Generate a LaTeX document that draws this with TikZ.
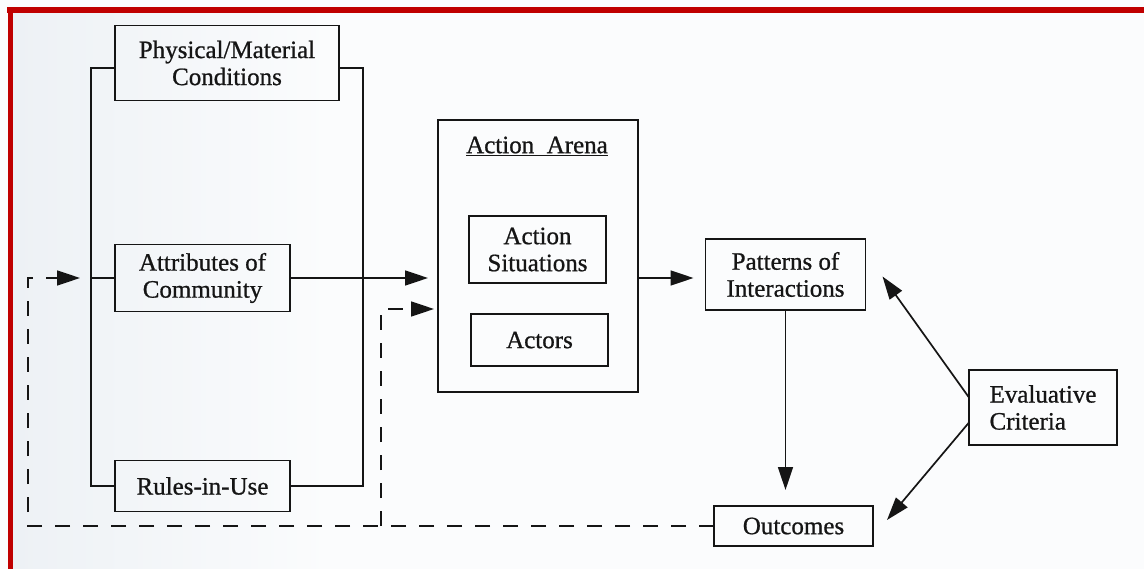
\documentclass[tikz,border=0pt]{standalone}
\usepackage{fontspec}
\setmainfont{Liberation Serif}
\newfontfamily\printfont{Liberation Serif}[FakeBold=0.8]
\usetikzlibrary{arrows.meta}
\definecolor{framered}{HTML}{C00000}
\definecolor{paper}{HTML}{FBFCFD}
\definecolor{paperleft}{HTML}{EDF1F5}
\definecolor{ink}{HTML}{151515}
\begin{document}
\begin{tikzpicture}[x=1pt,y=-1pt,
  label font/.style={font=\printfont\fontsize{25}{27}\selectfont},
  box/.style={draw=ink, line width=1.7pt, inner sep=0pt, outer sep=0pt,
    align=center, text=ink, label font},
  wire/.style={draw=ink, line width=1.7pt},
  arr/.style={wire, -{Triangle[length=23pt,width=15pt]}},
  fb/.style={draw=ink, line width=1.7pt, dash pattern=on 15pt off 13pt},
  fbarr/.style={fb, -{Triangle[length=23pt,width=15pt]}}]

% paper and frame
\useasboundingbox (0,0) rectangle (1144,569);
\fill[paper] (0,0) rectangle (1144,569);
\shade[left color=paperleft, right color=paper] (13,13) rectangle (330,569);
\fill[framered] (7,7) rectangle (1144,13);
\fill[framered] (8,7) rectangle (13,569);

% exogenous variables
\node[box, minimum width=224pt, minimum height=75pt] (phys) at (227,63)
  {Physical/Material\\Conditions};
\node[box, minimum width=175pt, minimum height=67pt] (attr) at (202.5,278)
  {Attributes of\\Community};
\node[box, minimum width=175pt, minimum height=51pt] (rules) at (202.5,486)
  {Rules-in-Use};

% action arena
\node[box, minimum width=200pt, minimum height=272pt] (arena) at (538,256) {};
\node[text=ink, label font, inner sep=0pt] (title) at (537,146)
  {\underline{Action\ \ Arena}};
\node[box, minimum width=137pt, minimum height=67pt] (sit) at (537.5,249.5)
  {Action\\Situations};
\node[box, minimum width=137pt, minimum height=52pt] (actors) at (539.5,340)
  {Actors};

% results
\node[box, minimum width=160pt, minimum height=71pt] (pat) at (785.5,274.5)
  {Patterns of\\Interactions};
\node[box, minimum width=159pt, minimum height=40pt] (out) at (793.5,526)
  {Outcomes};
\node[box, minimum width=148pt, minimum height=75pt, align=left] (eval) at (1043,407.5)
  {Evaluative\\Criteria};

% named points for the feedback loops
\coordinate (corner) at (28,0);
\coordinate (tap) at (381,0);
\coordinate (busL) at ([xshift=-24pt]attr.west);
\coordinate (arenaIn) at ([yshift=-53pt]arena.west);

% brackets joining the exogenous variables
\draw[wire] ([yshift=-5pt]phys.west) -- ++(-24,0) |- (rules.west);
\draw[wire] (attr.west) -- (busL);
\draw[wire] ([yshift=-5pt]phys.east) -- ++(24,0) |- (rules.east);

% main flow
\draw[arr, shorten >=10pt] (attr.east) -- (attr.east -| arena.west);
\draw[arr, shorten >=12pt] (arena.east |- 0,278) -- (pat.west |- 0,278);
\draw[arr, shorten >=16pt] (pat.south) -- (pat.south |- out.north);
\draw[arr] ([yshift=10pt]eval.west) -- ([xshift=17pt,yshift=-2pt]pat.east);
\draw[arr] ([yshift=-15pt]eval.west) -- ([xshift=14pt,yshift=6pt]out.east);

% feedback from outcomes
\draw[fbarr, shorten >=11pt] (out.west) -- (out.west -| corner) |- (busL);
\draw[fbarr, shorten >=4pt] (out.west -| tap) |- (arenaIn);
\end{tikzpicture}
\end{document}
